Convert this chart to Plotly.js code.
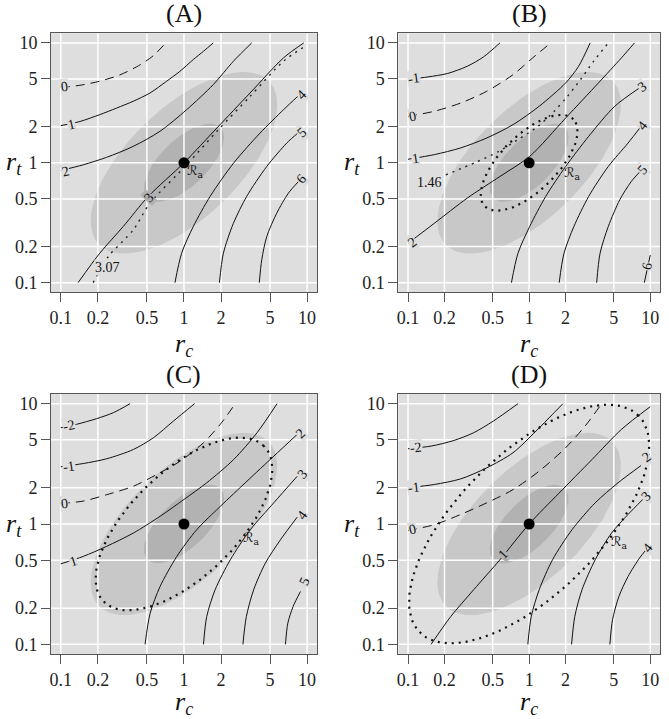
<!DOCTYPE html>
<html><head><meta charset="utf-8">
<script src="https://cdn.plot.ly/plotly-3.0.1.min.js"></script>
<style>html,body{margin:0;padding:0;background:#fff}#plot{width:669px;height:719px}</style>
</head><body><div id="plot"></div>
<script>
// ---------- data ----------
const tickVals = [0.1, 0.2, 0.5, 1, 2, 5, 10];
const tickText = ["0.1", "0.2", "0.5", "1", "2", "5", "10"];
const panelNames = ["(A)", "(B)", "(C)", "(D)"];

// centre of the regions (rc, rt) and log10 semi-axes (major along rc=rt, minor)
const regionCenter = [1, 1];
const outerRegionAxes = [0.97, 0.454];
const innerRegionAxes = [0.418, 0.192];
const RaAxes_B = [0.516, 0.232];
const RaAxes_C = [0.917, 0.434];
const RaAxes_D = [1.275, 0.583];

// Panel A contours
const A_levels = ["0", "1", "2", "3", "4", "5", "6"];
const A_rc = [
  [0.1, 0.143, 0.207, 0.302, 0.439, 0.564, 0.70],
  [0.1, 0.143, 0.207, 0.284, 0.387, 0.530, 0.723, 0.927, 1.19, 1.44, 1.73],
  [0.1, 0.152, 0.235, 0.387, 0.638, 1.05, 1.73, 2.52, 3.55],
  [0.138, 0.207, 0.321, 0.513, 1, 1.85, 3.44, 6.43, 9.4],
  [0.845, 0.957, 1.19, 1.63, 2.52, 4.15, 6.43, 8.51],
  [1.94, 2.09, 2.52, 3.23, 4.70, 6.83, 8.51],
  [4.09, 4.28, 4.70, 5.66, 7.05, 8.51]
];
const A_rt = [
  [4.24, 4.43, 4.79, 5.41, 6.55, 7.83, 9.8],
  [2.04, 2.21, 2.52, 2.86, 3.26, 3.82, 4.79, 5.79, 7.26, 8.51, 10],
  [0.863, 0.962, 1.11, 1.37, 1.83, 2.77, 4.49, 7.03, 10],
  [0.1, 0.176, 0.294, 0.524, 1, 1.95, 3.82, 7.50, 10],
  [0.1, 0.176, 0.294, 0.524, 0.99, 1.77, 2.77, 3.63],
  [0.1, 0.176, 0.313, 0.524, 0.931, 1.46, 1.79],
  [0.1, 0.155, 0.242, 0.379, 0.558, 0.698]
];
const A_labRc = [0.108, 0.122, 0.109, 0.519, 9.06, 9.06, 9.06];
const A_labRt = [4.29, 2.08, 0.845, 0.516, 3.70, 1.80, 0.734];
const A_extraLevel = "3.07";
const A_extraRc = [0.183, 0.243, 0.387, 0.530, 1.05, 1.85, 3.44, 6.43, 9.63];
const A_extraRt = [0.1, 0.165, 0.275, 0.46, 0.96, 1.83, 3.58, 7.03, 9.38];
const A_extraLab = [0.241, 0.133];
const A_RaLab = [1.02, 0.84];

// Panel B contours
const B_levels = ["-1", "0", "1", "2", "3", "4", "5", "6"];
const B_rc = [
  [0.1, 0.146, 0.211, 0.308, 0.420, 0.574],
  [0.1, 0.165, 0.272, 0.447, 0.736, 1.07, 1.51],
  [0.1, 0.165, 0.272, 0.447, 0.736, 1.21, 2.00, 2.56, 3.19],
  [0.1, 0.165, 0.308, 0.574, 1.01, 2.00, 3.73, 5.78, 7.41],
  [0.714, 0.809, 1.01, 1.37, 2.00, 3.10, 5.09, 8.15],
  [1.77, 1.94, 2.34, 3.10, 4.50, 6.55, 8.39],
  [3.61, 3.85, 4.50, 5.60, 6.97, 8.39],
  [8.93, 10]
];
const B_rt = [
  [4.94, 5.20, 5.55, 6.38, 7.64, 10],
  [2.44, 2.69, 3.15, 3.95, 5.43, 7.50, 10],
  [1.07, 1.17, 1.33, 1.61, 2.08, 2.96, 4.63, 6.38, 10],
  [0.213, 0.313, 0.507, 0.769, 1.13, 2.36, 4.63, 7.50, 10],
  [0.1, 0.176, 0.294, 0.524, 0.931, 1.66, 2.96, 4.21],
  [0.1, 0.176, 0.294, 0.524, 0.931, 1.46, 2.01],
  [0.1, 0.176, 0.294, 0.491, 0.698, 0.863],
  [0.1, 0.17]
];
const B_labRc = [0.111, 0.108, 0.115, 0.108, 8.67, 8.67, 8.67, 9.4];
const B_labRt = [5.04, 2.44, 1.09, 0.216, 4.29, 2.04, 0.875, 0.136];
const B_extraLevel = "1.46";
const B_extraRc = [0.205, 0.360, 0.557, 0.809, 1.18, 1.61, 2.07, 2.65, 3.40, 4.51];
const B_extraRt = [0.794, 1.006, 1.24, 1.56, 2.01, 2.69, 3.58, 4.93, 7.01, 10];
const B_extraLab = [0.15, 0.68];
const B_RaLab = [1.85, 0.82];

// Panel C contours
const C_levels = ["-2", "-1", "0", "1", "2", "3", "4", "5"];
const C_rc = [
  [0.1, 0.134, 0.195, 0.267, 0.365],
  [0.1, 0.152, 0.235, 0.388, 0.565, 0.822, 1.22],
  [0.1, 0.152, 0.235, 0.388, 0.601, 0.931, 1.44, 1.97, 2.61],
  [0.1, 0.152, 0.235, 0.388, 0.640, 1.0, 1.53, 2.53, 3.92, 5.70],
  [0.483, 0.531, 0.640, 0.875, 1.27, 1.97, 3.25, 5.36, 8.30],
  [1.44, 1.53, 1.79, 2.38, 3.46, 5.36, 8.30],
  [3.01, 3.21, 3.68, 4.58, 6.07, 8.30],
  [6.67, 6.97, 7.69, 8.83]
];
const C_rt = [
  [6.31, 6.73, 7.50, 8.41, 10],
  [2.99, 3.18, 3.48, 4.16, 5.21, 7.17, 10],
  [1.48, 1.55, 1.75, 2.06, 2.58, 3.33, 4.73, 6.73, 10],
  [0.467, 0.538, 0.652, 0.841, 1.16, 1.60, 2.20, 3.43, 5.73, 10],
  [0.1, 0.181, 0.303, 0.538, 0.897, 1.40, 2.27, 3.66, 5.55],
  [0.1, 0.170, 0.284, 0.505, 0.897, 1.50, 2.49],
  [0.1, 0.170, 0.284, 0.473, 0.739, 1.14],
  [0.1, 0.150, 0.206, 0.275]
];
const C_labRc = [0.117, 0.117, 0.108, 0.126, 8.83, 9.1, 9.1, 9.5];
const C_labRt = [6.59, 3.03, 1.48, 0.489, 5.66, 2.58, 1.17, 0.333];
const C_RaLab = [2.90, 0.764];

// Panel D contours
const D_levels = ["-2", "-1", "0", "1", "2", "3", "4"];
const D_rc = [
  [0.1, 0.155, 0.239, 0.348, 0.507, 0.809],
  [0.1, 0.165, 0.272, 0.447, 0.736, 1.14, 1.56, 1.90],
  [0.1, 0.165, 0.272, 0.447, 0.736, 1.21, 2.00, 2.90, 3.97],
  [0.155, 0.225, 0.348, 0.574, 1.0, 1.77, 3.30, 5.78, 10],
  [0.975, 1.04, 1.21, 1.56, 2.26, 3.51, 5.42, 8.39],
  [2.24, 2.38, 2.73, 3.51, 4.79, 6.55, 8.67],
  [4.64, 4.88, 5.50, 6.55, 8.15, 9.23]
];
const D_rt = [
  [4.22, 4.44, 4.94, 5.73, 7.17, 10],
  [2.0, 2.13, 2.37, 2.93, 3.91, 5.92, 8.15, 10],
  [0.885, 0.987, 1.20, 1.50, 1.93, 2.75, 4.30, 6.52, 10],
  [0.1, 0.170, 0.284, 0.505, 1.0, 1.81, 3.43, 6.11, 9.44],
  [0.1, 0.170, 0.284, 0.505, 0.897, 1.50, 2.20, 3.06],
  [0.1, 0.170, 0.284, 0.505, 0.841, 1.20, 1.60],
  [0.1, 0.160, 0.249, 0.366, 0.521, 0.611]
];
const D_labRc = [0.117, 0.113, 0.108, 0.611, 9.23, 9.23, 9.4];
const D_labRt = [4.30, 2.0, 0.897, 0.555, 3.59, 1.68, 0.631];
const D_RaLab = [4.56, 0.703];

// ---------- styles / layout ----------
const LOGR = [-1.08, 1.08];
const BG = "#dedede", OUTER = "#c8c8c8", INNER = "#b2b2b2";
const SERIF = "Liberation Serif, DejaVu Serif, serif";
const dom = {
  A: {x: [0.0762, 0.4738], y: [0.5935, 0.9537]},
  B: {x: [0.5954, 0.9865], y: [0.5935, 0.9537]},
  C: {x: [0.0762, 0.4738], y: [0.0904, 0.452]},
  D: {x: [0.5954, 0.9865], y: [0.0904, 0.452]}
};
const angles = {
  A: [-7, -13, -14, -47, -45, -42, -50],
  B: [-8, -11, -9, -37, -36, -51, -48, -78],
  C: [-12, -8, -6, -18, -43, -49, -54, -64],
  D: [-6, -7, -12, -47, -37, -45, -51]
};

const panels = [
  {k: "A", xa: "x", ya: "y", lev: A_levels, rc: A_rc, rt: A_rt, lrc: A_labRc, lrt: A_labRt,
   extra: {lev: A_extraLevel, rc: A_extraRc, rt: A_extraRt, lab: A_extraLab}, ra: null, raLab: A_RaLab},
  {k: "B", xa: "x2", ya: "y2", lev: B_levels, rc: B_rc, rt: B_rt, lrc: B_labRc, lrt: B_labRt,
   extra: {lev: B_extraLevel, rc: B_extraRc, rt: B_extraRt, lab: B_extraLab}, ra: RaAxes_B, raLab: B_RaLab},
  {k: "C", xa: "x3", ya: "y3", lev: C_levels, rc: C_rc, rt: C_rt, lrc: C_labRc, lrt: C_labRt,
   extra: null, ra: RaAxes_C, raLab: C_RaLab},
  {k: "D", xa: "x4", ya: "y4", lev: D_levels, rc: D_rc, rt: D_rt, lrc: D_labRc, lrt: D_labRt,
   extra: null, ra: RaAxes_D, raLab: D_RaLab}
];

function ellipse(ax) {
  const xs = [], ys = [], N = 160;
  for (let i = 0; i <= N; i++) {
    const t = 2 * Math.PI * i / N;
    const u = ax[0] * Math.cos(t), v = ax[1] * Math.sin(t);
    xs.push(regionCenter[0] * Math.pow(10, (u - v) * Math.SQRT1_2));
    ys.push(regionCenter[1] * Math.pow(10, (u + v) * Math.SQRT1_2));
  }
  return [xs, ys];
}
function inside(rc, rt, ax) {
  const lx = Math.log10(rc / regionCenter[0]), ly = Math.log10(rt / regionCenter[1]);
  const u = (lx + ly) * Math.SQRT1_2, v = (ly - lx) * Math.SQRT1_2;
  return (u / ax[0]) ** 2 + (v / ax[1]) ** 2 <= 1;
}
function bgAt(rc, rt) {
  if (inside(rc, rt, innerRegionAxes)) return INNER;
  if (inside(rc, rt, outerRegionAxes)) return OUTER;
  return BG;
}

const traces = [], annotations = [], layout = {};
const lo = Math.pow(10, LOGR[0]), hi = Math.pow(10, LOGR[1]);

panels.forEach((p, pi) => {
  const ax = {xaxis: p.xa, yaxis: p.ya, hoverinfo: "skip", showlegend: false};
  const eo = ellipse(outerRegionAxes), ei = ellipse(innerRegionAxes);
  traces.push(Object.assign({type: "scatter", mode: "lines", x: eo[0], y: eo[1], fill: "toself",
    fillcolor: OUTER, line: {width: 0, color: OUTER}}, ax));
  traces.push(Object.assign({type: "scatter", mode: "lines", x: ei[0], y: ei[1], fill: "toself",
    fillcolor: INNER, line: {width: 0, color: INNER}}, ax));
  // grid on top of regions
  const gx = [], gy = [];
  tickVals.forEach(v => { gx.push(v, v, null); gy.push(lo, hi, null); });
  tickVals.forEach(v => { gx.push(lo, hi, null); gy.push(v, v, null); });
  traces.push(Object.assign({type: "scatter", mode: "lines", x: gx, y: gy,
    line: {color: "#ffffff", width: 1.5}}, ax));
  // contours
  p.lev.forEach((lv, i) => {
    traces.push(Object.assign({type: "scatter", mode: "lines", x: p.rc[i], y: p.rt[i],
      line: {color: "#111", width: 1, dash: lv === "0" ? "9px,6px" : "solid", shape: "spline", smoothing: 0.8}}, ax));
    annotations.push({xref: p.xa, yref: p.ya, x: Math.log10(p.lrc[i]), y: Math.log10(p.lrt[i]),
      text: lv, textangle: angles[p.k][i], showarrow: false, borderpad: 0,
      bgcolor: bgAt(p.lrc[i], p.lrt[i]), font: {family: SERIF, size: 14, color: "#111"}});
  });
  if (p.extra) {
    traces.push(Object.assign({type: "scatter", mode: "lines", x: p.extra.rc, y: p.extra.rt,
      line: {color: "#222", width: 1.4, dash: "2px,5px", shape: "spline", smoothing: 0.8}}, ax));
    annotations.push({xref: p.xa, yref: p.ya, x: Math.log10(p.extra.lab[0]), y: Math.log10(p.extra.lab[1]),
      text: p.extra.lev, showarrow: false, borderpad: 0, bgcolor: bgAt(p.extra.lab[0], p.extra.lab[1]),
      font: {family: SERIF, size: 14, color: "#111"}});
  }
  if (p.ra) {
    const er = ellipse(p.ra);
    traces.push(Object.assign({type: "scatter", mode: "lines", x: er[0], y: er[1],
      line: {color: "#111", width: 2.2, dash: "2px,5px"}}, ax));
  }
  annotations.push({xref: p.xa, yref: p.ya, x: Math.log10(p.raLab[0]), y: Math.log10(p.raLab[1]),
    text: "ℛ<sub>a</sub>", xanchor: "left", showarrow: false,
    font: {family: "DejaVu Serif, DejaVu Sans, serif", size: 13, color: "#111"}});
  traces.push(Object.assign({type: "scatter", mode: "markers", x: [regionCenter[0]], y: [regionCenter[1]],
    marker: {color: "#000", size: 11}}, ax));

  const axBase = {type: "log", range: LOGR, showgrid: false, zeroline: false, showline: true, mirror: true,
    linecolor: "#555", linewidth: 1, ticks: "outside", ticklen: 9, tickwidth: 1, tickcolor: "#555",
    tickvals: tickVals, ticktext: tickText, tickfont: {family: SERIF, size: 18, color: "#222"}, fixedrange: true};
  const suf = pi === 0 ? "" : String(pi + 1);
  layout["xaxis" + suf] = Object.assign({}, axBase, {domain: dom[p.k].x, anchor: p.ya});
  layout["yaxis" + suf] = Object.assign({}, axBase, {domain: dom[p.k].y, anchor: p.xa});

  const d = dom[p.k];
  const cx = (d.x[0] + d.x[1]) / 2;
  const top = pi < 2 ? 1 - 14 / 719 : 1 - 374 / 719;
  annotations.push({xref: "paper", yref: "paper", x: cx, y: top, xanchor: "center", yanchor: "middle",
    text: panelNames[pi], showarrow: false, font: {family: SERIF, size: 26, color: "#111"}});
  const xt = pi < 2 ? 1 - 345 / 719 : 1 - 703 / 719;
  annotations.push({xref: "paper", yref: "paper", x: cx, y: xt, xanchor: "center", yanchor: "middle",
    text: "<i>r</i><sub><i>c</i></sub>", showarrow: false, font: {family: SERIF, size: 26, color: "#111"}});
  const ytx = (pi % 2 === 0 ? 14 : 352) / 669;
  const yty = pi < 2 ? 1 - 163 / 719 : 1 - 525 / 719;
  annotations.push({xref: "paper", yref: "paper", x: ytx, y: yty, xanchor: "center", yanchor: "middle",
    text: "<i>r</i><sub><i>t</i></sub>", showarrow: false, font: {family: SERIF, size: 26, color: "#111"}});
});

Object.assign(layout, {
  width: 669, height: 719, margin: {l: 0, r: 0, t: 0, b: 0},
  paper_bgcolor: "#ffffff", plot_bgcolor: BG, showlegend: false,
  annotations: annotations
});

Plotly.newPlot("plot", traces, layout, {staticPlot: true, displayModeBar: false});
</script></body></html>
